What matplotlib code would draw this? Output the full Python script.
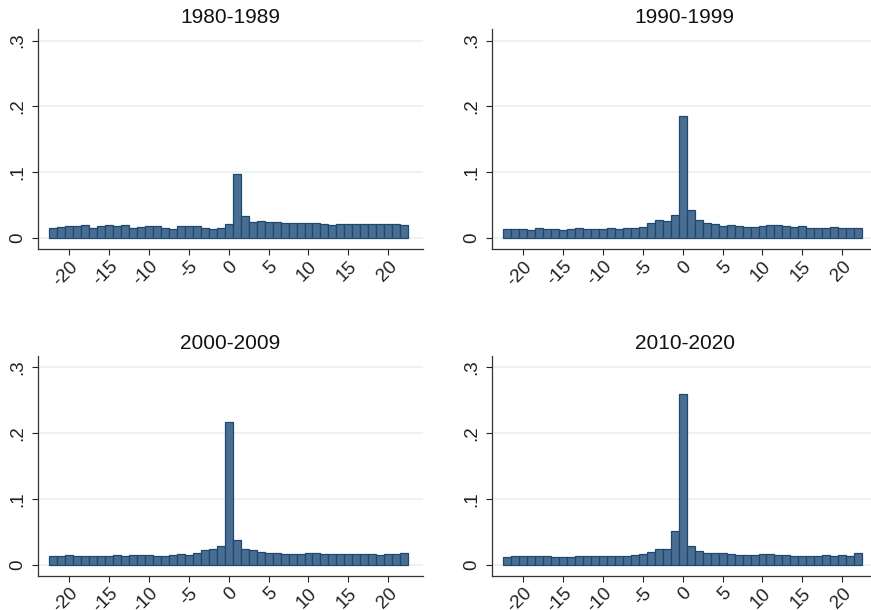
import numpy as np
import matplotlib
matplotlib.use('Agg')
import matplotlib.pyplot as plt

plt.rcParams['font.family'] = ['Liberation Sans', 'DejaVu Sans']

bins = np.arange(-22, 23)  # bin centres, width 1

titles = ['1980-1989', '1990-1999', '2000-2009', '2010-2020']

dens_1980 = [0.0157, 0.0168, 0.0183, 0.0180, 0.0198, 0.0157, 0.0180, 0.0198, 0.0190, 0.0198,
             0.0157, 0.0168, 0.0180, 0.0180, 0.0160, 0.0137, 0.0180, 0.0180, 0.0180, 0.0160,
             0.0142, 0.0160, 0.0218, 0.0978, 0.0335, 0.0249, 0.0259, 0.0249, 0.0249, 0.0228,
             0.0228, 0.0228, 0.0228, 0.0228, 0.0218, 0.0198, 0.0213, 0.0213, 0.0213, 0.0208,
             0.0213, 0.0213, 0.0213, 0.0213, 0.0193]
dens_1990 = [0.0132, 0.0132, 0.0142, 0.0122, 0.0152, 0.0137, 0.0137, 0.0122, 0.0137, 0.0152,
             0.0132, 0.0137, 0.0137, 0.0152, 0.0142, 0.0157, 0.0147, 0.0168, 0.0228, 0.0272,
             0.0264, 0.0345, 0.1850, 0.0425, 0.0269, 0.0228, 0.0213, 0.0183, 0.0198, 0.0183,
             0.0168, 0.0168, 0.0183, 0.0198, 0.0198, 0.0183, 0.0168, 0.0183, 0.0152, 0.0152,
             0.0152, 0.0168, 0.0152, 0.0152, 0.0152]
dens_2000 = [0.0137, 0.0127, 0.0152, 0.0137, 0.0137, 0.0137, 0.0137, 0.0137, 0.0152, 0.0137,
             0.0147, 0.0147, 0.0147, 0.0137, 0.0137, 0.0152, 0.0162, 0.0152, 0.0173, 0.0218,
             0.0233, 0.0289, 0.2170, 0.0370, 0.0233, 0.0218, 0.0188, 0.0178, 0.0178, 0.0162,
             0.0162, 0.0162, 0.0178, 0.0183, 0.0168, 0.0168, 0.0168, 0.0168, 0.0168, 0.0162,
             0.0168, 0.0152, 0.0168, 0.0168, 0.0183]
dens_2010 = [0.0122, 0.0137, 0.0132, 0.0132, 0.0127, 0.0137, 0.0122, 0.0122, 0.0122, 0.0127,
             0.0137, 0.0137, 0.0127, 0.0137, 0.0132, 0.0132, 0.0147, 0.0168, 0.0191, 0.0233,
             0.0244, 0.0507, 0.2600, 0.0289, 0.0208, 0.0183, 0.0183, 0.0183, 0.0168, 0.0152,
             0.0152, 0.0147, 0.0168, 0.0157, 0.0152, 0.0152, 0.0137, 0.0137, 0.0137, 0.0137,
             0.0147, 0.0137, 0.0147, 0.0137, 0.0173]
series = [dens_1980, dens_1990, dens_2000, dens_2010]

W, H = 871, 610
fig = plt.figure(figsize=(W / 100, H / 100), dpi=100)

# panel positions in pixels: left edge of y axis, y of x axis
lefts = [38, 492, 38, 492]
bottoms = [249, 249, 575.7, 575.7]
pw, ph = 385, 219.5

for i in range(4):
    ax = fig.add_axes([lefts[i] / W, 1 - bottoms[i] / H, pw / W, ph / H])
    ax.bar(bins, series[i], width=1.0, color='#4A6E92', edgecolor='#1E4870',
           linewidth=0.9, zorder=3)
    ax.set_xlim(-23.9, 24.35)
    ax.set_ylim(-0.0165, 0.3167)
    ax.set_yticks([0, 0.1, 0.2, 0.3])
    ax.set_yticklabels(['0', '.1', '.2', '.3'], rotation=90, va='center')
    ax.set_xticks(np.arange(-20, 21, 5))
    ax.set_xticklabels([str(v) for v in range(-20, 21, 5)], rotation=45,
                       ha='right', rotation_mode='anchor')
    ax.tick_params(labelsize=13.5, colors='#222222', length=4.5, width=0.8)
    ax.tick_params(axis='x', pad=2)
    ax.tick_params(axis='y', pad=4)
    ax.grid(axis='y', color='#EAF2F3', linewidth=1.3, zorder=0)
    for s in ['top', 'right']:
        ax.spines[s].set_visible(False)
    for s in ['left', 'bottom']:
        ax.spines[s].set_color('#333333')
        ax.spines[s].set_linewidth(0.9)
    ax.set_title(titles[i], fontsize=15, pad=5, color='#111111')

plt.savefig('out.png', dpi=100, facecolor='white')
